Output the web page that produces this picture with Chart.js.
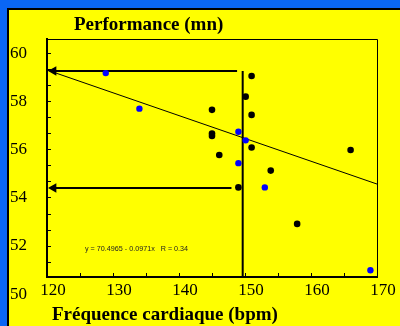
<!DOCTYPE html>
<html>
<head>
<meta charset="utf-8">
<script src="https://cdn.jsdelivr.net/npm/chart.js@4"></script>
<style>
  html, body { margin: 0; padding: 0; background: #0a66f5; width: 400px; height: 326px; overflow: hidden; }
  #panel { position: absolute; left: 7px; top: 8px; width: 400px; height: 330px; box-sizing: border-box;
           background: #ffff00; border-left: 2px solid #000; border-top: 2px solid #000; }
  canvas { display: block; }
</style>
</head>
<body>
<div id="panel"><canvas id="chart" width="391" height="316"></canvas></div>
<script>
// Fréquence cardiaque (bpm) / Performance (mn)
const blackX = [151.0, 150.1, 145.0, 151.0, 145.0, 145.0, 151.0, 146.1, 166.0, 153.9, 149.0, 157.9];
const blackY = [59.08, 58.22, 57.67, 57.46, 56.58, 56.68, 56.10, 55.79, 56.00, 55.14, 54.44, 52.92];
const blueX = [128.9, 134.0, 149.0, 150.1, 149.0, 153.0, 169.0];
const blueY = [59.20, 57.72, 56.76, 56.40, 55.45, 54.44, 50.99];

// regression line ends
const regX = [120, 170];
const regY = [59.33, 54.58];

// reading lines (vertical at the threshold, arrows to the y axis)
const cutX = [149.65, 149.65];
const cutY = [59.29, 50.71];
const arrowTopX = [121.0, 148.8];
const arrowTopY = [59.29, 59.29];
const arrowLowX = [121.0, 147.95];
const arrowLowY = [54.42, 54.42];

// axes
const xMin = 120, xMax = 170, xStep = 5;
const yMin = 50.71, yMax = 60.62;
const yTicks = [50, 50.667, 51.333, 52, 52.667, 53.333, 54, 54.667, 55.333, 56, 56.667, 57.333, 58, 58.667, 59.333, 60];

const equation = "y = 70.4965 - 0.0971x   R = 0.34";
const yTitle = "Performance (mn)";
const xTitle = "Fréquence cardiaque (bpm)";

const pts = (xs, ys) => xs.map((x, i) => ({ x: x, y: ys[i] }));

const serif = "'Liberation Serif', 'Times New Roman', serif";

// frame on top/right, titles, equation inside
const extras = {
  id: 'extras',
  afterDraw(chart) {
    const { ctx, chartArea: a } = chart;
    ctx.save();
    ctx.strokeStyle = '#000';
    ctx.lineWidth = 1;
    ctx.beginPath();
    ctx.moveTo(a.left, a.top + 0.5);
    ctx.lineTo(a.right + 0.5, a.top + 0.5);
    ctx.lineTo(a.right + 0.5, a.bottom);
    ctx.stroke();

    ctx.fillStyle = '#000';
    ctx.font = "bold 19px " + serif;
    ctx.textBaseline = 'middle';
    ctx.textAlign = 'left';
    ctx.fillText(yTitle, a.left + 27, a.top - 14);
    ctx.fillText(xTitle, a.left + 5, a.bottom + 38);

    ctx.fillStyle = '#222';
    ctx.font = "7.2px 'Liberation Sans', Arial, sans-serif";
    ctx.fillText(equation, a.left + 38, a.bottom - 28);
    ctx.restore();
  }
};

new Chart(document.getElementById('chart'), {
  type: 'scatter',
  data: {
    datasets: [
      { data: pts(blackX, blackY), backgroundColor: '#000', borderColor: '#000', pointRadius: 3.3, borderWidth: 0 },
      { data: pts(blueX, blueY), backgroundColor: '#0000ff', borderColor: '#0000ff', pointRadius: 3.2, borderWidth: 0 },
      { data: pts(regX, regY), showLine: true, borderColor: '#000', borderWidth: 1, pointRadius: 0 },
      { data: pts(cutX, cutY), showLine: true, borderColor: '#000', borderWidth: 2, pointRadius: 0 },
      { data: pts(arrowTopX, arrowTopY), showLine: true, borderColor: '#000', borderWidth: 2,
        pointRadius: [3.5, 0], pointStyle: 'triangle', rotation: -90, backgroundColor: '#000' },
      { data: pts(arrowLowX, arrowLowY), showLine: true, borderColor: '#000', borderWidth: 2,
        pointRadius: [3.5, 0], pointStyle: 'triangle', rotation: -90, backgroundColor: '#000' }
    ]
  },
  options: {
    responsive: false,
    animation: false,
    devicePixelRatio: 1,
    layout: { padding: { left: 1, top: 29, right: 23, bottom: 0 } },
    plugins: { legend: { display: false }, tooltip: { enabled: false }, title: { display: false } },
    scales: {
      x: {
        type: 'linear',
        min: xMin, max: xMax,
        border: { color: '#000', width: 2 },
        grid: { drawOnChartArea: false, tickLength: -4, color: '#000', tickWidth: 1 },
        afterFit: scale => { scale.height = 49; scale.paddingLeft = 0; scale.paddingRight = 0; },
        ticks: {
          stepSize: xStep,
          color: '#000',
          padding: 7,
          labelOffset: 6,
          maxRotation: 0,
          autoSkip: false,
          font: { family: serif, size: 17 },
          callback: v => (v % 10 === 0 ? String(v) : '')
        }
      },
      y: {
        type: 'linear',
        min: yMin, max: yMax,
        border: { color: '#000', width: 2 },
        grid: {
          drawOnChartArea: false, tickLength: -4, tickWidth: 1,
          tickColor: c => (c.tick && c.tick.value < yMin ? 'rgba(0,0,0,0)' : '#000')
        },
        afterBuildTicks: scale => { scale.ticks = yTicks.map(v => ({ value: v })); },
        afterFit: scale => { scale.width = 37; scale.paddingTop = 0; scale.paddingBottom = 0; },
        ticks: {
          color: '#000',
          padding: 24,
          labelOffset: 0,
          autoSkip: false,
          font: { family: serif, size: 17 },
          callback: v => {
            const r = Math.round(v);
            return Math.abs(v - r) < 0.01 && r % 2 === 0 ? String(r) : '';
          }
        }
      }
    }
  },
  plugins: [extras]
});
</script>
</body>
</html>
